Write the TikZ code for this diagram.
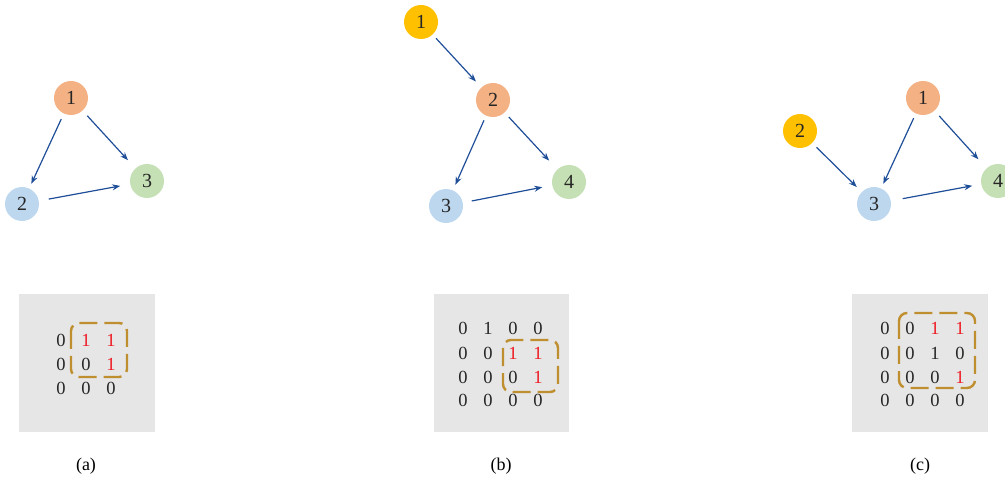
\documentclass[tikz,border=0pt]{standalone}
\usepackage{fontspec}
\setmainfont{Liberation Serif}
\usetikzlibrary{arrows.meta}
\definecolor{nodeorange}{HTML}{F4B183}
\definecolor{nodeblue}{HTML}{BDD7EE}
\definecolor{nodegreen}{HTML}{C5E0B4}
\definecolor{nodeyellow}{HTML}{FFC000}
\definecolor{arrowblue}{HTML}{1F4E99}
\definecolor{boxgray}{HTML}{E6E6E6}
\definecolor{dashgold}{HTML}{BF8F2F}
\definecolor{digitred}{HTML}{EE1C25}
\definecolor{digitgray}{HTML}{262626}
\tikzset{
  vert/.style={circle, minimum size=34pt, inner sep=0pt, text=digitgray, font=\fontsize{20}{20}\selectfont},
  edge/.style={-{Stealth[length=8pt,width=6pt]}, line width=1.2pt, draw=arrowblue},
  ent/.style={inner sep=0pt, text=digitgray, font=\fontsize{18.5}{18.5}\selectfont},
  redent/.style={ent, text=digitred},
  dbox/.style={draw=dashgold, line width=2.4pt, rounded corners=8pt, dash pattern=on 18pt off 7pt},
  gbox/.style={fill=boxgray, draw=none},
  captext/.style={inner sep=0pt, font=\fontsize{18}{18}\selectfont}
}
\begin{document}
\begin{tikzpicture}[x=1pt, y=-1pt]
\useasboundingbox (0,0) rectangle (1005,481);
\begin{scope}
\clip (0,0) rectangle (1005,481);
% ---------- (a) graph
\node[vert, fill=nodeorange] (a1) at (71,98) {1};
\node[vert, fill=nodeblue] (a2) at (22,204) {2};
\node[vert, fill=nodegreen] (a3) at (147,181) {3};
\draw[edge, shorten <=6pt, shorten >=5pt] (a1) -- (a2);
\draw[edge, shorten <=7pt, shorten >=11pt] (a1) -- (a3);
\draw[edge, shorten <=10pt, shorten >=10pt] (a2) -- (a3);
% ---------- (b) graph
\node[vert, fill=nodeyellow] (b1) at (421,22) {1};
\node[vert, fill=nodeorange] (b2) at (493,100) {2};
\node[vert, fill=nodeblue] (b3) at (446,206) {3};
\node[vert, fill=nodegreen] (b4) at (569,182) {4};
\draw[edge, shorten <=5pt, shorten >=8pt] (b1) -- (b2);
\draw[edge, shorten <=5pt, shorten >=6pt] (b2) -- (b3);
\draw[edge, shorten <=6pt, shorten >=12pt] (b2) -- (b4);
\draw[edge, shorten <=9pt, shorten >=10pt] (b3) -- (b4);
% ---------- (c) graph
\node[vert, fill=nodeorange] (c1) at (923,98) {1};
\node[vert, fill=nodeyellow] (c2) at (800,131) {2};
\node[vert, fill=nodeblue] (c3) at (874,204) {3};
\node[vert, fill=nodegreen] (c4) at (998,181) {4};
\draw[edge, shorten <=6pt, shorten >=7pt] (c2) -- (c3);
\draw[edge, shorten <=5pt, shorten >=5pt] (c1) -- (c3);
\draw[edge, shorten <=7pt, shorten >=12pt] (c1) -- (c4);
\draw[edge, shorten <=12pt, shorten >=9pt] (c3) -- (c4);
\end{scope}
% ---------- (a) matrix
\fill[gbox] (19,294) rectangle (155,432);
\node[ent] (ma11) at (61,340) {0};
\node[redent] (ma12) at (86,340) {1};
\node[redent] (ma13) at (111,340) {1};
\node[ent] (ma21) at (61,364) {0};
\node[ent] (ma22) at (86,364) {0};
\node[redent] (ma23) at (111,364) {1};
\node[ent] (ma31) at (61,388) {0};
\node[ent] (ma32) at (86,388) {0};
\node[ent] (ma33) at (111,388) {0};
\draw[dbox] (71,323) rectangle (127,377);
% ---------- (b) matrix
\fill[gbox] (434,294) rectangle (569,432);
\node[ent] (mb11) at (463,328) {0};
\node[ent] (mb12) at (488,328) {1};
\node[ent] (mb13) at (513,328) {0};
\node[ent] (mb14) at (538,328) {0};
\node[ent] (mb21) at (463,353) {0};
\node[ent] (mb22) at (488,353) {0};
\node[redent] (mb23) at (513,353) {1};
\node[redent] (mb24) at (538,353) {1};
\node[ent] (mb31) at (463,377) {0};
\node[ent] (mb32) at (488,377) {0};
\node[ent] (mb33) at (513,377) {0};
\node[redent] (mb34) at (538,377) {1};
\node[ent] (mb41) at (463,400) {0};
\node[ent] (mb42) at (488,400) {0};
\node[ent] (mb43) at (513,400) {0};
\node[ent] (mb44) at (538,400) {0};
\draw[dbox] (503,340) rectangle (558,392);
% ---------- (c) matrix
\fill[gbox] (852,294) rectangle (988,432);
\node[ent] (mc11) at (885,328) {0};
\node[ent] (mc12) at (910,328) {0};
\node[redent] (mc13) at (935,328) {1};
\node[redent] (mc14) at (960,328) {1};
\node[ent] (mc21) at (885,353) {0};
\node[ent] (mc22) at (910,353) {0};
\node[ent] (mc23) at (935,353) {1};
\node[ent] (mc24) at (960,353) {0};
\node[ent] (mc31) at (885,377) {0};
\node[ent] (mc32) at (910,377) {0};
\node[ent] (mc33) at (935,377) {0};
\node[redent] (mc34) at (960,377) {1};
\node[ent] (mc41) at (885,400) {0};
\node[ent] (mc42) at (910,400) {0};
\node[ent] (mc43) at (935,400) {0};
\node[ent] (mc44) at (960,400) {0};
\draw[dbox] (899,313) rectangle (975,388);
% ---------- captions
\node[captext] (capa) at (86,466) {(a)};
\node[captext] (capb) at (501,466) {(b)};
\node[captext] (capc) at (920,466) {(c)};
\end{tikzpicture}
\end{document}
